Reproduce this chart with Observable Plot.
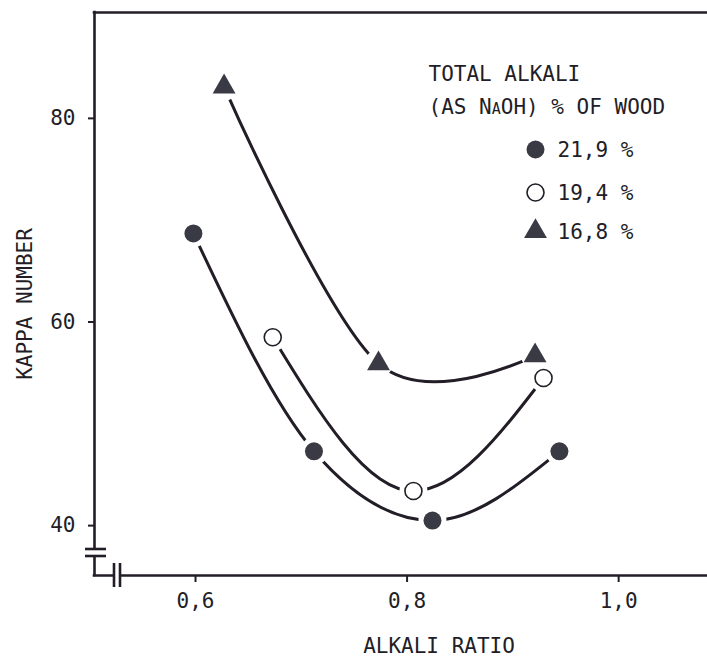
<!DOCTYPE html>
<html><head><meta charset="utf-8">
<script src="https://cdn.jsdelivr.net/npm/d3@7"></script>
<script src="https://cdn.jsdelivr.net/npm/@observablehq/plot@0.6"></script>
<style>html,body{margin:0;padding:0;background:#fff;} svg{display:block}</style>
</head><body><div id="chart"></div>
<script>
// ---- data ----
const seriesLabels = ["21,9 %", "19,4 %", "16,8 %"];
const seriesKinds = ["filled", "open", "triangle"];
const ratio219 = [0.598, 0.712, 0.824, 0.944];
const kappa219 = [68.7, 47.3, 40.5, 47.3];
const ratio194 = [0.673, 0.806, 0.929];
const kappa194 = [58.5, 43.4, 54.5];
const ratio168 = [0.627, 0.773, 0.921];
const kappa168 = [83.1, 55.9, 56.7];
const xTicks = [0.6, 0.8, 1.0];
const yTicks = [40, 60, 80];
const legendTitle = ["TOTAL ALKALI", "(AS NaOH) % OF WOOD"];
const xLabel = "ALKALI RATIO";
const yLabel = "KAPPA NUMBER";

// ---- build table ----
const ratios = [ratio219, ratio194, ratio168];
const kappas = [kappa219, kappa194, kappa168];
const rows = [];
seriesLabels.forEach((s, i) => {
  ratios[i].forEach((r, j) => rows.push({series: s, kind: seriesKinds[i], ratio: r, kappa: kappas[i][j]}));
});

const INK = "#221d26";
const DARK = "#3a3a45";
const FONT = "DejaVu Sans Mono";
const W = 707, H = 657;
const mL = 94, mR = 0, mT = 12, mB = 82;
const xDomain = [0.5045, 1.084];
const yDomain = [35.1, 90.4];

function axisBreaks(index, scales, values, dims) {
  const g = d3.create("svg:g");
  const x0 = dims.marginLeft, y0 = dims.height - dims.marginBottom;
  // vertical axis break
  g.append("rect").attr("x", x0 - 4).attr("y", y0 - 25).attr("width", 8).attr("height", 5).attr("fill", "white");
  for (const dy of [-26, -19]) {
    g.append("line").attr("x1", x0 - 9).attr("x2", x0 + 12).attr("y1", y0 + dy).attr("y2", y0 + dy)
      .attr("stroke", INK).attr("stroke-width", 2.6);
  }
  // horizontal axis break
  g.append("rect").attr("x", x0 + 21).attr("y", y0 - 4).attr("width", 4).attr("height", 8).attr("fill", "white");
  for (const dx of [20, 26]) {
    g.append("line").attr("x1", x0 + dx).attr("x2", x0 + dx).attr("y1", y0 - 12).attr("y2", y0 + 12)
      .attr("stroke", INK).attr("stroke-width", 2.6);
  }
  return g.node();
}

const txt = {fill: INK, lineAnchor: "middle"};
const legendMarks = [];
legendMarks.push(Plot.text([legendTitle[0]], {...txt, text: d => d, frameAnchor: "top-left", dx: 334, dy: 62, textAnchor: "start"}));
legendMarks.push(Plot.text([legendTitle[1]], {...txt, text: d => d, frameAnchor: "top-left", dx: 334, dy: 95, textAnchor: "start", fontVariant: "small-caps"}));
const legendDy = [137, 180, 219];
seriesLabels.forEach((s, i) => {
  const k = seriesKinds[i];
  const opts = {frameAnchor: "top-left", dx: 441, dy: legendDy[i]};
  if (k === "filled") legendMarks.push(Plot.dot([s], {...opts, r: 9, fill: DARK}));
  else if (k === "open") legendMarks.push(Plot.dot([s], {...opts, r: 8.5, fill: "white", stroke: INK, strokeWidth: 1.6}));
  else legendMarks.push(Plot.dot([s], {...opts, r: 8.5, symbol: "triangle", fill: DARK}));
  legendMarks.push(Plot.text([s], {...txt, text: d => d, frameAnchor: "top-left", dx: 463, dy: legendDy[i] + 1, textAnchor: "start"}));
});

const lineOpts = {x: "ratio", y: "kappa", z: "series", stroke: INK, strokeWidth: 3};

const chart = Plot.plot({
  width: W, height: H,
  marginLeft: mL, marginRight: mR, marginTop: mT, marginBottom: mB,
  style: {fontFamily: FONT, fontSize: "21px", background: "white", color: INK},
  x: {domain: xDomain},
  y: {domain: yDomain},
  marks: [
    Plot.ruleY([yDomain[1]], {stroke: INK, strokeWidth: 2.6, strokeLinecap: "square"}),
    Plot.ruleY([yDomain[0]], {stroke: INK, strokeWidth: 2.6, strokeLinecap: "square"}),
    Plot.ruleX([xDomain[0]], {stroke: INK, strokeWidth: 2.6, strokeLinecap: "square"}),
    Plot.axisX({ticks: xTicks, tickFormat: d => d.toFixed(1).replace(".", ","), tickSize: 7, tickPadding: 11, label: null, stroke: INK, strokeWidth: 2, fill: INK}),
    Plot.axisY({ticks: yTicks, tickSize: 6, tickPadding: 13, label: null, stroke: INK, strokeWidth: 2, fill: INK}),
    axisBreaks,
    Plot.line(rows.filter(d => d.kind !== "triangle"), {...lineOpts, curve: "monotone-x"}),
    Plot.line(rows.filter(d => d.kind === "triangle"), {...lineOpts, curve: "cardinal"}),
    Plot.dot(rows, {x: "ratio", y: "kappa", r: 14, fill: "white"}),
    Plot.dot(rows.filter(d => d.kind === "filled"), {x: "ratio", y: "kappa", r: 9, fill: DARK}),
    Plot.dot(rows.filter(d => d.kind === "open"), {x: "ratio", y: "kappa", r: 8.5, fill: "white", stroke: INK, strokeWidth: 1.6}),
    Plot.dot(rows.filter(d => d.kind === "triangle"), {x: "ratio", y: "kappa", r: 8.5, symbol: "triangle", fill: DARK}),
    Plot.text([xLabel], {...txt, text: d => d, frameAnchor: "bottom", textAnchor: "middle", dx: 38, dy: 71}),
    Plot.text([yLabel], {...txt, text: d => d, frameAnchor: "left", textAnchor: "middle", rotate: -90, dx: -69, dy: 10}),
    ...legendMarks
  ]
});
document.getElementById("chart").append(chart);
</script>
</body></html>
